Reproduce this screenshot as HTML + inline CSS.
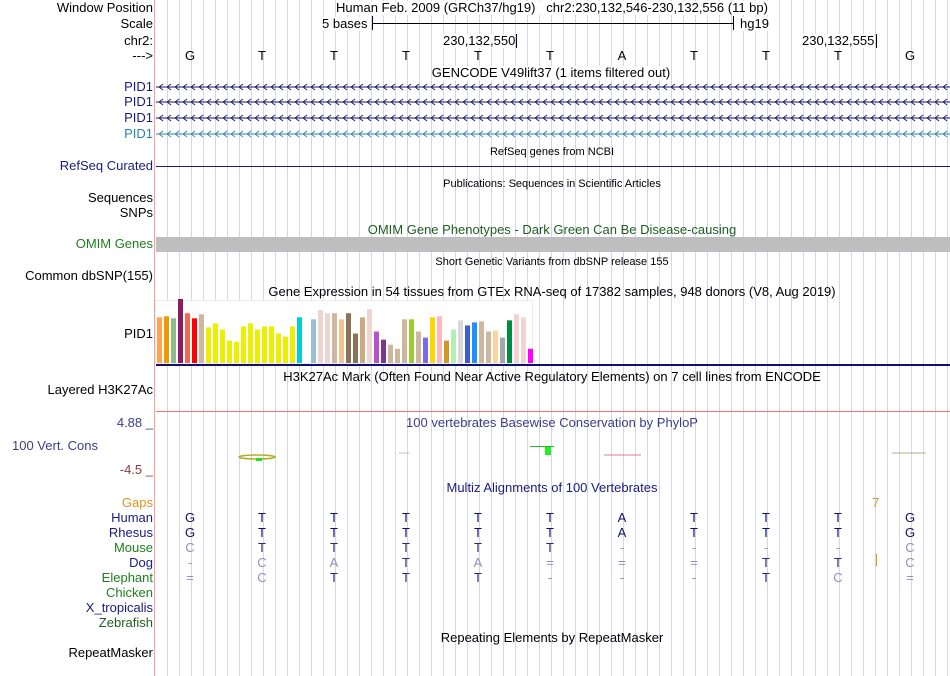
<!DOCTYPE html>
<html><head><meta charset="utf-8">
<style>
body{margin:0;width:950px;height:676px;background:#fff;position:relative;overflow:hidden;font-family:"Liberation Sans",sans-serif;}
.t{position:absolute;white-space:nowrap;font-size:13px;line-height:14px;color:#000}
.l{right:797px;text-align:right}
.c{transform:translateX(-50%)}
.s{font-size:11px}
#grid{position:absolute;left:156px;top:0;width:794px;height:676px;
background:repeating-linear-gradient(90deg,transparent 0,transparent 11px,#d4d4f4 11px,#d4d4f4 12px);}
</style></head><body>
<div id="grid"></div>
<div style="position:absolute;left:154px;top:0;width:1px;height:676px;background:#f4a0a0"></div>

<div class="t l" style="top:1px">Window Position</div>
<div class="t c" style="left:552px;top:1px;background:#fff">Human Feb. 2009 (GRCh37/hg19) &nbsp; chr2:230,132,546-230,132,556 (11 bp)</div>
<div class="t l" style="top:17px">Scale</div>
<div class="t" style="left:322px;top:17px;background:#fff">5 bases</div>
<div style="position:absolute;left:372px;top:16px;width:1px;height:14px;background:#000"></div>
<div style="position:absolute;left:372px;top:23px;width:361px;height:1px;background:#000"></div>
<div style="position:absolute;left:733px;top:16px;width:1px;height:14px;background:#000"></div>
<div class="t" style="left:740px;top:17px;background:#fff">hg19</div>
<div class="t l" style="top:34px">chr2:</div>
<div class="t" style="left:443px;top:34px;background:#fff">230,132,550</div>
<div style="position:absolute;left:516px;top:34px;width:1px;height:14px;background:#000"></div>
<div class="t" style="left:802px;top:34px;background:#fff">230,132,555</div>
<div style="position:absolute;left:876px;top:34px;width:1px;height:14px;background:#000"></div>
<div class="t l" style="top:49px">---&gt;</div>
<div id="bases"></div>

<div class="t c" style="left:551px;top:66px;background:#fff">GENCODE V49lift37 (1 items filtered out)</div>
<div class="t l" style="top:80px;color:#1a1a80">PID1</div>
<div class="t l" style="top:95px;color:#1a1a80">PID1</div>
<div class="t l" style="top:111px;color:#1a1a80">PID1</div>
<div class="t l" style="top:127px;color:#2a80b0">PID1</div>
<svg id="genes" style="position:absolute;left:156px;top:0" width="794" height="676"></svg>

<div class="t c s" style="left:552px;top:145px">RefSeq genes from NCBI</div>
<div class="t l" style="top:159px;color:#1a1a80">RefSeq Curated</div>
<div style="position:absolute;left:156px;top:166px;width:794px;height:1px;background:#1a1a80"></div>
<div class="t c s" style="left:552px;top:177px">Publications: Sequences in Scientific Articles</div>
<div class="t l" style="top:191px">Sequences</div>
<div class="t l" style="top:206px">SNPs</div>
<div class="t c" style="left:552px;top:223px;color:#1e5e1e">OMIM Gene Phenotypes - Dark Green Can Be Disease-causing</div>
<div class="t l" style="top:237px;color:#1e7e1e">OMIM Genes</div>
<div style="position:absolute;left:156px;top:237px;width:794px;height:15px;background:#bebebe"></div>
<div class="t c s" style="left:552px;top:255px">Short Genetic Variants from dbSNP release 155</div>
<div class="t l" style="top:269px">Common dbSNP(155)</div>
<div class="t c" style="left:552px;top:285px">Gene Expression in 54 tissues from GTEx RNA-seq of 17382 samples, 948 donors (V8, Aug 2019)</div>
<div class="t l" style="top:327px">PID1</div>
<div style="position:absolute;left:155px;top:300px;width:378px;height:64px;background:#fff;border:1px solid #ececf6;box-sizing:border-box"></div>
<svg id="gtex" style="position:absolute;left:155px;top:296px" width="382" height="72"></svg>
<div style="position:absolute;left:156px;top:364px;width:794px;height:2px;background:#10106e"></div>

<div class="t c" style="left:552px;top:370px">H3K27Ac Mark (Often Found Near Active Regulatory Elements) on 7 cell lines from ENCODE</div>
<div class="t l" style="top:383px">Layered H3K27Ac</div>
<div style="position:absolute;left:156px;top:411px;width:794px;height:1px;background:#ff7070"></div>

<div class="t c" style="left:552px;top:416px;color:#3c3c8c">100 vertebrates Basewise Conservation by PhyloP</div>
<div class="t l" style="top:416px;color:#3c3c8c">4.88 _</div>
<div class="t" style="left:12px;top:439px;color:#3c3c8c">100 Vert. Cons</div>
<div class="t l" style="top:463px;color:#8c3c3c">-4.5 _</div>
<svg style="position:absolute;left:156px;top:440px" width="794" height="25">
<ellipse cx="101" cy="17" rx="18" ry="2" fill="none" stroke="#b0b020" stroke-width="1.5"/>
<rect x="100" y="18" width="6" height="3" fill="#20e020"/>
<line x1="243" y1="13" x2="253" y2="13" stroke="#c0c0a0"/>
<rect x="374" y="6" width="24" height="1" fill="#20c020"/>
<rect x="389" y="7" width="6" height="8" fill="#20f020"/>
<line x1="448" y1="15" x2="485" y2="15" stroke="#e08080"/>
<line x1="736" y1="13" x2="770" y2="13" stroke="#b0b080"/>
</svg>

<div class="t c" style="left:552px;top:481px;color:#1a1a80">Multiz Alignments of 100 Vertebrates</div>
<div class="t l" style="top:496px;color:#e09020">Gaps</div>
<div class="t" style="left:872px;top:496px;color:#e09020">7</div>
<div style="position:absolute;left:876px;top:554px;width:1px;height:12px;background:#e09020"></div>
<div id="species"></div>
<div class="t c" style="left:552px;top:631px">Repeating Elements by RepeatMasker</div>
<div class="t l" style="top:646px">RepeatMasker</div>

<script>
const bases=["G","T","T","T","T","T","A","T","T","T","G"];
const gtexValues=[45,46,44,63,49,44,48,35,39,33,22,21,36,39,33,36,36,29,26,36,45,0,43,52,49,49,43,49,29,45,53,31,23,18,14,43,43,31,25,45,46,22,33,42,37,40,41,31,32,25,42,48,45,14];
const gtexColors=["#FFA54F","#EE9A00","#8FBC8F","#8B1C62","#EE6A50","#FF0000","#CDB79E","#EEEE00","#EEEE00","#EEEE00","#EEEE00","#EEEE00","#EEEE00","#EEEE00","#EEEE00","#EEEE00","#EEEE00","#EEEE00","#EEEE00","#EEEE00","#00CED1","#9AC0CD","#9AC0CD","#EED5D2","#EED5D2","#CDB79E","#EEC591","#8B7355","#8B7355","#CDAA7D","#EED5D2","#B452CD","#7A378B","#CDB79E","#CDB79E","#CDB79E","#9ACD32","#CDB79E","#7B68EE","#FFD700","#FFB6C1","#CD9B1D","#B4EEB4","#D9D9D9","#3A5FCD","#1E90FF","#CDB79E","#CDB79E","#FFD39B","#A6A6A6","#008B45","#EED5D2","#EED5D2","#FF00FF"];
const species=["Human","Rhesus","Mouse","Dog","Elephant","Chicken","X_tropicalis","Zebrafish"];
const speciesColors=["#1a1a80","#1a1a80","#1e7e1e","#1a1a80","#1e7e1e","#1e7e1e","#1a1a80","#1e5e1e"];
const alignRowsFixed=["GTTTTTATTTG","GTTTTTATTTG","CTTTTT----C","-CATA===TTC","=CTTT---TC=","","",""];

function xBase(i){return 190+i*72;}
const bdiv=document.getElementById('bases');
bases.forEach((b,i)=>{
 const d=document.createElement('div');
 d.className='t c';d.style.left=xBase(i)+'px';d.style.top='49px';d.textContent=b;
 
 
 bdiv.appendChild(d);
});

const NS="http://www.w3.org/2000/svg";
const g=document.getElementById('genes');
[[87,"#10106e"],[102,"#10106e"],[118,"#10106e"],[134,"#2a80b0"]].forEach((r,k)=>{
 const ln=document.createElementNS(NS,'line');
 ln.setAttribute('x1',0);ln.setAttribute('x2',794);ln.setAttribute('y1',r[0]);ln.setAttribute('y2',r[0]);
 ln.setAttribute('stroke',r[1]);
 
 
 g.appendChild(ln);
 let p="";
 for(let x=3;x<794;x+=8){p+=`M${x+4},${r[0]-3}L${x},${r[0]}L${x+4},${r[0]+3}`;}
 const pa=document.createElementNS(NS,'path');
 pa.setAttribute('d',p);pa.setAttribute('stroke',r[1]);pa.setAttribute('fill','none');pa.setAttribute('stroke-width','0.8');
 
 
 g.appendChild(pa);
});

const gt=document.getElementById('gtex');
const maxV=63,baseY=67,plotH=64;
function yScale(v){return baseY-v/maxV*plotH;}
gtexValues.forEach((v,i)=>{
 if(v<=0)return;
 const r=document.createElementNS(NS,'rect');
 r.setAttribute('x',2+i*7);r.setAttribute('width',5);
 r.setAttribute('y',yScale(v));r.setAttribute('height',baseY-yScale(v));
 r.setAttribute('fill',gtexColors[i]);
 
 
 gt.appendChild(r);
});

const sp=document.getElementById('species');
species.forEach((s,k)=>{
 const y=511+k*15;
 const d=document.createElement('div');
 d.className='t l';d.style.top=y+'px';d.style.color=speciesColors[k];d.textContent=s;
 
 
 sp.appendChild(d);
 const row=alignRowsFixed[k];
 for(let i=0;i<row.length;i++){
  const ch=row[i];
  const e=document.createElement('div');
  e.className='t c';e.style.left=xBase(i)+'px';e.style.top=y+'px';
  let col="#9090c0";
  if(k<2) col="#10106e";
  else if(ch==="T") col="#2a2a7a";
  e.style.color=col;
  e.textContent=ch;
  
  
  sp.appendChild(e);
 }
});
</script>
</body></html>
